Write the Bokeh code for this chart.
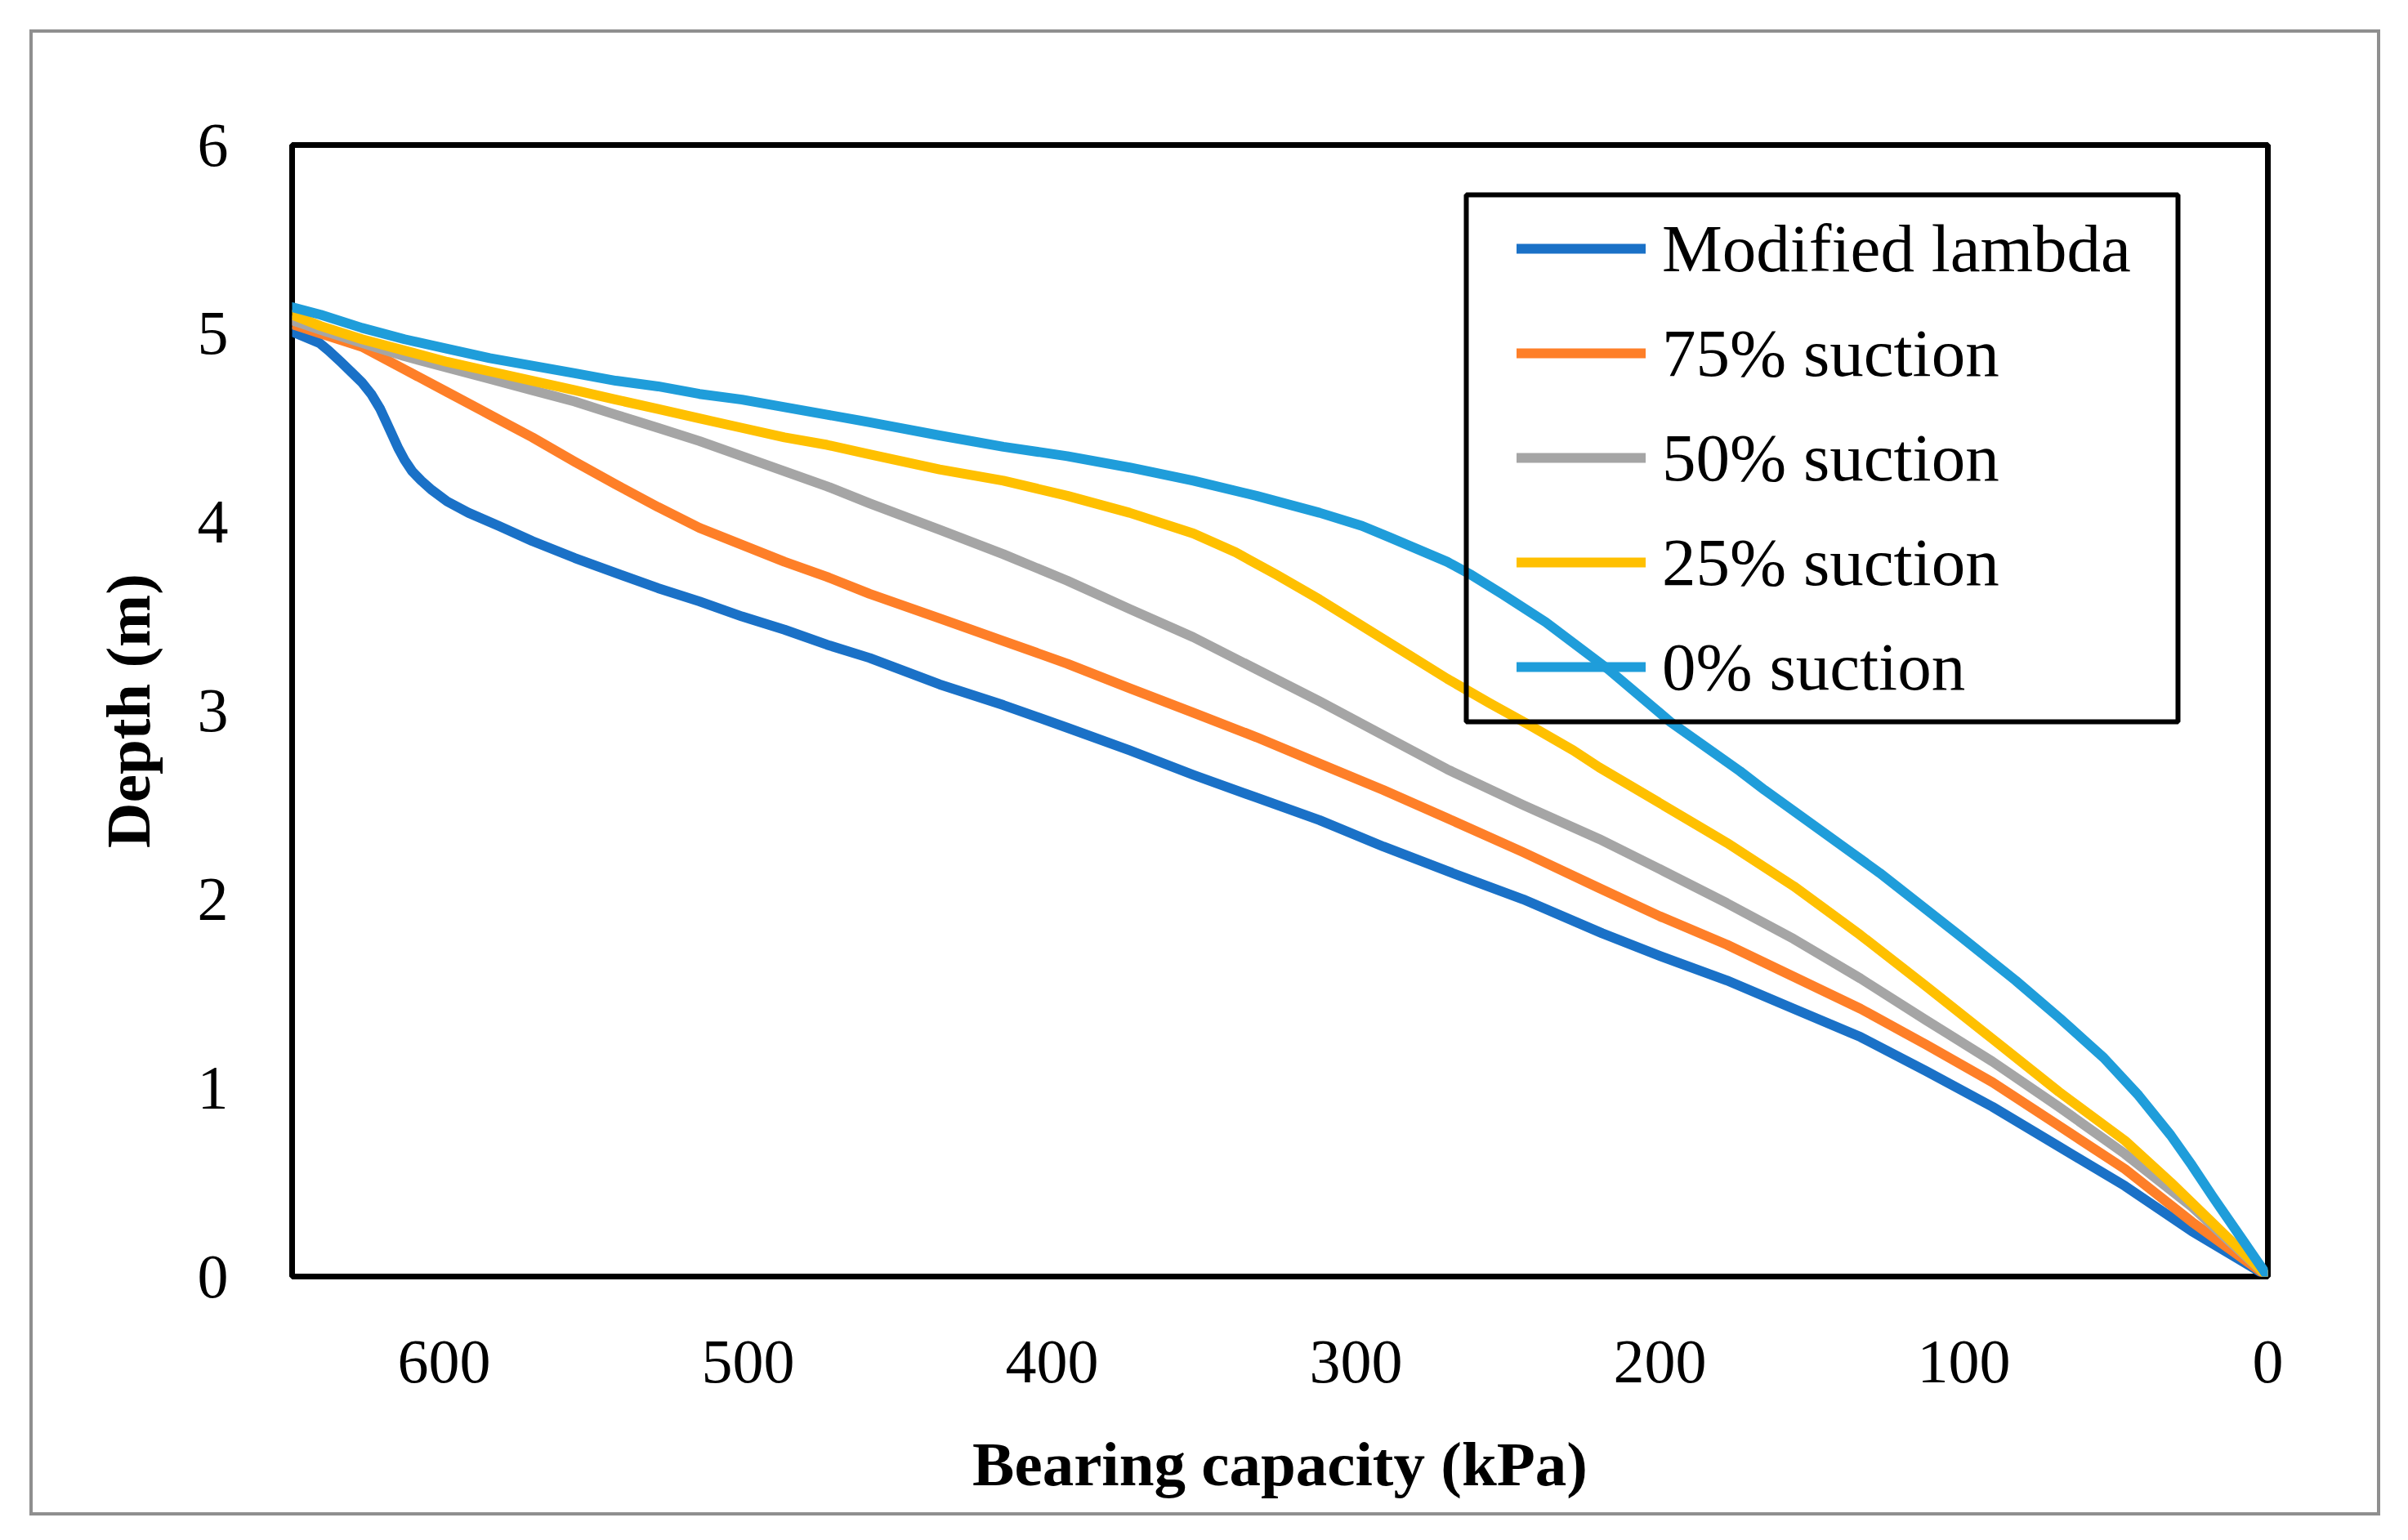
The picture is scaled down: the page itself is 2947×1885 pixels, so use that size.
from bokeh.plotting import figure
from bokeh.models import Range1d, BoxAnnotation, Legend, LegendItem, FixedTicker, InlineStyleSheet
from bokeh.embed import file_html
from bokeh.resources import INLINE

# ---- data ----
ml_x = [650, 641, 638, 634, 629.5, 627, 624, 621, 619, 617, 615, 613, 610.5, 607.5, 604, 599, 592,
        582, 571, 557, 543.5, 529.6, 516, 502, 488, 474, 460, 437, 416, 395, 374.5, 353.5, 332.8, 312,
        291, 270, 245, 219, 200, 178, 156, 134, 112.5, 90.6, 68.8, 47, 25, 0]
ml_y = [5.01, 4.95, 4.91, 4.85, 4.78, 4.74, 4.68, 4.60, 4.53, 4.46, 4.39, 4.33, 4.27, 4.22, 4.17, 4.11, 4.05,
        3.98, 3.90, 3.81, 3.73, 3.65, 3.58, 3.50, 3.43, 3.35, 3.28, 3.14, 3.03, 2.91, 2.79, 2.66, 2.54, 2.42,
        2.28, 2.15, 2.00, 1.82, 1.70, 1.57, 1.42, 1.27, 1.09, 0.90, 0.69, 0.48, 0.24, 0]

s75_x = [650, 640.6, 627, 613, 599, 585, 571, 557, 543.5, 529.6, 516, 502, 488, 474, 460, 437, 416, 395,
         374.5, 353.5, 332.8, 312, 291, 270, 245, 220, 200, 178, 156, 134, 112.5, 90.6, 68.8, 47, 25, 0]
s75_y = [5.05, 5.00, 4.93, 4.81, 4.69, 4.57, 4.45, 4.32, 4.20, 4.08, 3.97, 3.88, 3.79, 3.71, 3.62, 3.49, 3.37, 3.25,
         3.12, 2.99, 2.86, 2.72, 2.58, 2.43, 2.25, 2.06, 1.91, 1.76, 1.59, 1.42, 1.23, 1.03, 0.80, 0.57, 0.29, 0]

s50_x = [650, 640.6, 627, 613, 599, 585, 571, 557, 543.5, 529.6, 516, 502, 488, 474, 460, 437, 416, 395,
         374.5, 353.5, 332.8, 312, 291, 270, 245, 220, 200, 178, 156, 134, 112.5, 90.6, 68.8, 47, 25, 0]
s50_y = [5.07, 5.02, 4.95, 4.88, 4.82, 4.76, 4.70, 4.64, 4.57, 4.50, 4.43, 4.35, 4.27, 4.19, 4.10, 3.96, 3.83, 3.69,
         3.54, 3.39, 3.22, 3.05, 2.87, 2.69, 2.50, 2.32, 2.16, 1.98, 1.79, 1.58, 1.36, 1.14, 0.90, 0.65, 0.37, 0]

s25_x = [650, 640.6, 627, 613, 599, 585, 571, 557, 543.5, 529.6, 516, 502, 488, 474, 460, 437, 416, 395,
         374.5, 353.5, 339.6, 326, 312, 298, 284, 270, 256, 242.5, 228.5, 220, 200, 178, 156, 134, 112.5,
         90.6, 68.8, 47, 32, 0]
s25_y = [5.10, 5.04, 4.97, 4.91, 4.85, 4.80, 4.75, 4.70, 4.65, 4.60, 4.55, 4.50, 4.45, 4.41, 4.36, 4.28, 4.22, 4.14,
         4.05, 3.94, 3.84, 3.72, 3.59, 3.45, 3.31, 3.17, 3.04, 2.92, 2.79, 2.70, 2.51, 2.30, 2.07, 1.81, 1.54,
         1.26, 0.98, 0.72, 0.50, 0]

s0_x = [650, 640.6, 627, 613, 599, 585, 571, 557, 543.5, 529.6, 516, 502, 488, 474, 460, 437, 416, 395,
        374.5, 353.5, 332.8, 312, 298, 289, 270, 262, 252, 237.6, 231, 217, 196.5, 173.7, 165.6, 138, 127.7,
        101.6, 83, 68.5, 54, 42.5, 32, 25, 18, 9, 0]
s0_y = [5.14, 5.10, 5.03, 4.97, 4.92, 4.87, 4.83, 4.79, 4.75, 4.72, 4.68, 4.65, 4.61, 4.57, 4.53, 4.46, 4.40, 4.35,
        4.29, 4.22, 4.14, 4.05, 3.98, 3.92, 3.79, 3.72, 3.62, 3.47, 3.39, 3.22, 2.94, 2.68, 2.58, 2.26, 2.14,
        1.81, 1.57, 1.37, 1.16, 0.96, 0.75, 0.59, 0.42, 0.21, 0]

series_names = ["Modified lambda", "75% suction", "50% suction", "25% suction", "0% suction"]
series_colors = ["#1A71C7", "#FE7F28", "#A5A5A5", "#FFC000", "#1F9DDA"]
series_x = [ml_x, s75_x, s50_x, s25_x, s0_x]
series_y = [ml_y, s75_y, s50_y, s25_y, s0_y]

x_ticks = [0, 100, 200, 300, 400, 500, 600]
y_ticks = [0, 1, 2, 3, 4, 5, 6]

# ---- layout constants ----
W, H = 2931, 1869
FL, FR, FT, FB = 357, 2775, 177, 1562   # frame edges in figure pixels

# outer gray chart-area border, drawn by the page's CSS over the canvas
border_css = InlineStyleSheet(css="""
:host { position: relative; }
:host::after {
  content: "";
  position: absolute;
  left: 36px; top: 36px;
  width: 2877px; height: 1819px;
  box-sizing: border-box;
  border: 4.5px solid #8F8F8F;
  pointer-events: none;
  z-index: 50;
}
""")

p = figure(width=W, height=H, output_backend="svg", toolbar_location=None,
           x_range=Range1d(650, 0), y_range=Range1d(0, 6),
           min_border_left=FL, min_border_right=W - FR,
           min_border_top=FT, min_border_bottom=H - FB,
           stylesheets=[border_css])

p.background_fill_color = "white"
p.border_fill_color = "white"
p.outline_line_color = "black"
p.outline_line_width = 7
p.outline_line_alpha = 1
p.xgrid.visible = False
p.ygrid.visible = False

font = "Liberation Serif"
for ax in (p.xaxis[0], p.yaxis[0]):
    ax.axis_line_alpha = 0
    ax.major_tick_line_alpha = 0
    ax.minor_tick_line_alpha = 0
    ax.major_label_text_font = font
    ax.major_label_text_font_size = "76px"
    ax.major_label_text_color = "black"
    ax.axis_label_text_font = font
    ax.axis_label_text_font_size = "77px"
    ax.axis_label_text_font_style = "bold"
    ax.axis_label_text_color = "black"

p.xaxis.ticker = FixedTicker(ticks=x_ticks)
p.yaxis.ticker = FixedTicker(ticks=y_ticks)
p.xaxis.axis_label = "Bearing capacity (kPa)"
p.yaxis.axis_label = "Depth (m)"
p.xaxis.major_label_standoff = 73
p.xaxis.axis_label_standoff = 54
p.yaxis.major_label_standoff = 72
p.yaxis.axis_label_standoff = 39

items = []
for name, col, xs, ys in zip(series_names, series_colors, series_x, series_y):
    r = p.line(xs, ys, line_color=col, line_width=12, line_join="round", line_cap="round")
    items.append(LegendItem(label=name, renderers=[r]))

# legend box (frame-relative screen units)
p.add_layout(BoxAnnotation(left=1794 - FL, right=2665 - FL, top=FB - 238, bottom=FB - 883,
                           left_units="screen", right_units="screen",
                           top_units="screen", bottom_units="screen",
                           fill_alpha=0, line_color="black", line_alpha=1, line_width=6))

legend = Legend(items=items, location=(1499, 698), padding=0, margin=0,
                spacing=32, glyph_width=158, glyph_height=96, label_height=96,
                label_standoff=20, label_text_font=font, label_text_font_size="83px",
                label_text_color="black", background_fill_alpha=0, border_line_alpha=0)
p.add_layout(legend)

open("out.html", "w").write(file_html(p, INLINE))
